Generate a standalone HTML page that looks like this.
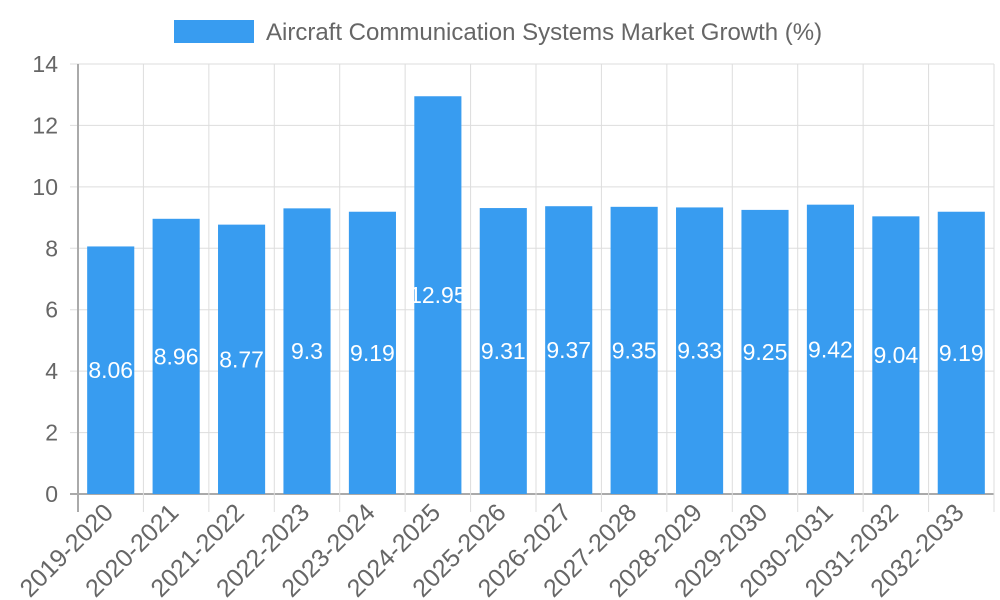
<!DOCTYPE html>
<html><head><meta charset="utf-8"><style>
body{margin:0;background:#fff;}
svg{display:block;font-family:"Liberation Sans",sans-serif;}
</style></head><body>
<svg id="chart" width="1000" height="600">
<g>
<rect x="174" y="20" width="80" height="23" fill="#389cf0"/>
<text x="266" y="40" font-size="24" fill="#666">Aircraft Communication Systems Market Growth (%)</text>
</g>
<g id="grid"></g><g id="bars"></g><g id="labels"></g>
</svg>
<script>
const categories=["2019-2020","2020-2021","2021-2022","2022-2023","2023-2024","2024-2025","2025-2026","2026-2027","2027-2028","2028-2029","2029-2030","2030-2031","2031-2032","2032-2033"];
const values=[8.06,8.96,8.77,9.3,9.19,12.95,9.31,9.37,9.35,9.33,9.25,9.42,9.04,9.19];
const yTicks=[0,2,4,6,8,10,12,14];
const NS="http://www.w3.org/2000/svg";
const L=78,R=994,T=64,B=494,yMax=14;
const bw=(R-L)/categories.length;
const y=v=>B-(v/yMax)*(B-T);
const xc=i=>L+bw*(i+0.5);
function mk(tag,attrs,parent){const e=document.createElementNS(NS,tag);for(const k in attrs)e.setAttribute(k,attrs[k]);document.getElementById(parent).appendChild(e);return e;}
yTicks.forEach(t=>{
 const g=mk('line',{x1:70,x2:R,y1:y(t),y2:y(t),stroke:t===0?'#aaa':'#ddd','stroke-width':t===0?2:1},'grid');
 
 
 const tx=mk('text',{x:58,y:y(t)+8,'text-anchor':'end','font-size':23,fill:'#666'},'grid');
 tx.textContent=t;
 
 
});
for(let i=0;i<=categories.length;i++){
 const x=L+bw*i;
 const g=mk('line',{x1:x,x2:x,y1:T,y2:512,stroke:i===0?'#aaa':'#ddd','stroke-width':i===0?2:1},'grid');
 
 
}
categories.forEach((c,i)=>{
 const w=bw*0.72;
 const b=mk('rect',{x:xc(i)-w/2,y:y(values[i]),width:w,height:B-y(values[i]),fill:'#389cf0'},'bars');
 
 
 const v=mk('text',{x:xc(i),y:y(values[i]/2)+8,'text-anchor':'middle','font-size':23,fill:'#fff'},'labels');
 v.textContent=values[i];
 
 
 const t=mk('text',{x:xc(i)+4,y:514,'text-anchor':'end','font-size':25,fill:'#666',transform:`rotate(-45 ${xc(i)+4} 514)`},'labels');
 t.textContent=c;
 
 
});
</script>
</body></html>
